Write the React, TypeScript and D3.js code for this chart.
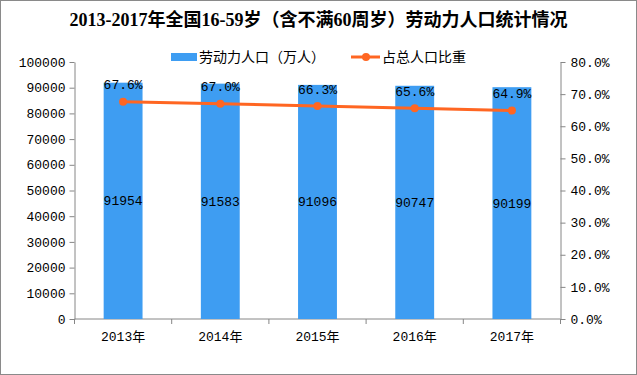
import React, { useEffect, useRef } from 'react';
import * as d3 from 'd3';

// chart data
const years = ['2013年', '2014年', '2015年', '2016年', '2017年'];
const labor = [91954, 91583, 91096, 90747, 90199];
const share = [0.676, 0.67, 0.663, 0.656, 0.649];
const leftTicks = [0, 10000, 20000, 30000, 40000, 50000, 60000, 70000, 80000, 90000, 100000];
const rightTicks = [0, 0.1, 0.2, 0.3, 0.4, 0.5, 0.6, 0.7, 0.8];

const W = 637;
const H = 375;
const BAR = '#3E9DF2';
const LINE = '#FF6622';
const AXIS = '#868686';
const MONO = '"Liberation Mono", "Noto Sans CJK SC", monospace';
const CJK = '"Liberation Serif", "Noto Sans CJK SC", serif';

const App = () => {
  const ref = useRef<SVGGElement>(null);

  useEffect(() => {
    const g = d3.select(ref.current);
    g.selectAll('*').remove();

    const margin = { top: 62, left: 74.5, right: 76.5, bottom: 56 };
    const innerW = W - margin.left - margin.right;
    const innerH = H - margin.top - margin.bottom;

    const x = d3.scaleBand().domain(years).range([0, innerW]).paddingInner(0.6).paddingOuter(0.3);
    const xb = d3.scaleBand().domain(years).range([0, innerW]);
    const y = d3.scaleLinear().domain([0, 100000]).range([innerH, 0]);
    const y2 = d3.scaleLinear().domain([0, 0.8]).range([innerH, 0]);

    // border
    g.append('rect')
      .attr('x', 0.5)
      .attr('y', 0.5)
      .attr('width', W - 1)
      .attr('height', H - 1)
      .attr('fill', '#fff')
      .attr('stroke', '#8a8a8a');

    // title
    g.append('text')
      .attr('x', W / 2)
      .attr('y', 26)
      .attr('text-anchor', 'middle')
      .attr('font-family', CJK)
      .attr('font-weight', 'bold')
      .attr('font-size', 18)
      .text('2013-2017年全国16-59岁（含不满60周岁）劳动力人口统计情况');

    // legend
    const lg = g.append('g').attr('font-family', CJK).attr('font-size', 14);
    lg.append('rect').attr('x', 171).attr('y', 53).attr('width', 26).attr('height', 8).attr('fill', BAR);
    lg.append('text').attr('x', 199).attr('y', 62).text('劳动力人口（万人）');
    lg.append('line')
      .attr('x1', 351)
      .attr('x2', 380)
      .attr('y1', 57)
      .attr('y2', 57)
      .attr('stroke', LINE)
      .attr('stroke-width', 3);
    lg.append('circle').attr('cx', 366).attr('cy', 57).attr('r', 4).attr('fill', LINE);
    lg.append('text').attr('x', 382).attr('y', 62).text('占总人口比重');

    const graph = g.append('g').attr('transform', `translate(${margin.left}, ${margin.top})`);

    // axes
    const leftAxis = graph
      .append('g')
      .call(d3.axisLeft(y).tickValues(leftTicks).tickSize(5).tickSizeOuter(0).tickFormat(d3.format('d')));
    const rightAxis = graph
      .append('g')
      .attr('transform', `translate(${innerW}, 0)`)
      .call(d3.axisRight(y2).tickValues(rightTicks).tickSize(5).tickSizeOuter(0).tickFormat(d3.format('.1%')));
    const bottomAxis = graph.append('g').attr('transform', `translate(0, ${innerH})`);
    bottomAxis
      .append('line')
      .attr('x1', 0)
      .attr('x2', innerW)
      .attr('stroke', AXIS);
    bottomAxis
      .selectAll('line.tk')
      .data(d3.range(years.length + 1))
      .enter()
      .append('line')
      .attr('class', 'tk')
      .attr('x1', i => i * xb.bandwidth())
      .attr('x2', i => i * xb.bandwidth())
      .attr('y1', 0)
      .attr('y2', 5)
      .attr('stroke', AXIS);
    bottomAxis
      .selectAll('text')
      .data(years)
      .enter()
      .append('text')
      .attr('x', d => (xb(d) as number) + xb.bandwidth() / 2)
      .attr('y', 22)
      .attr('text-anchor', 'middle')
      .attr('font-family', MONO)
      .attr('font-size', 13)
      .text(d => d);

    [leftAxis, rightAxis].forEach(a => {
      a.selectAll('path, line').attr('stroke', AXIS);
      a.selectAll('text').attr('font-family', MONO).attr('font-size', 13).attr('fill', '#000');
    });
    leftAxis.selectAll('text').attr('x', -9);
    rightAxis.selectAll('text').attr('x', 10);

    // bars
    const bx = (i: number) => x(years[i]) as number;
    graph
      .selectAll('rect.bar')
      .data(labor)
      .enter()
      .append('rect')
      .attr('class', 'bar')
      .attr('x', (d, i) => bx(i))
      .attr('y', d => y(d))
      .attr('width', x.bandwidth())
      .attr('height', d => innerH - y(d))
      .attr('fill', BAR);

    graph
      .selectAll('text.val')
      .data(labor)
      .enter()
      .append('text')
      .attr('class', 'val')
      .attr('x', (d, i) => bx(i) + x.bandwidth() / 2)
      .attr('y', d => (y(d) + innerH) / 2)
      .attr('dy', '0.35em')
      .attr('text-anchor', 'middle')
      .attr('font-family', MONO)
      .attr('font-size', 13)
      .text(d => d);

    // line
    const cx = (i: number) => bx(i) + x.bandwidth() / 2;
    const line = d3
      .line<number>()
      .x((d, i) => cx(i))
      .y(d => y2(d));
    graph
      .append('path')
      .datum(share)
      .attr('d', line)
      .attr('fill', 'none')
      .attr('stroke', LINE)
      .attr('stroke-width', 3);
    graph
      .selectAll('circle.pt')
      .data(share)
      .enter()
      .append('circle')
      .attr('class', 'pt')
      .attr('cx', (d, i) => cx(i))
      .attr('cy', d => y2(d))
      .attr('r', 4)
      .attr('fill', LINE);
    graph
      .selectAll('text.pct')
      .data(share)
      .enter()
      .append('text')
      .attr('class', 'pct')
      .attr('x', (d, i) => cx(i))
      .attr('y', d => y2(d) - 17)
      .attr('dy', '0.35em')
      .attr('text-anchor', 'middle')
      .attr('font-family', MONO)
      .attr('font-size', 13)
      .text(d => d3.format('.1%')(d));
  }, []);

  return (
    <svg width={W} height={H} style={{ position: 'absolute', left: 0, top: 0, display: 'block' }}>
      <g ref={ref} />
    </svg>
  );
};

export default App;
